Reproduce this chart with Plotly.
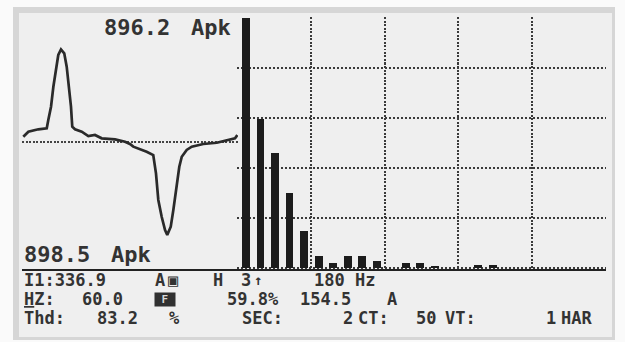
import plotly.graph_objects as go

# ---------------- data ----------------
# Current waveform (one cycle), time in ms and amplitude in A
wave_time_ms = [0.10, 0.49, 1.26, 1.91, 2.03, 2.24, 2.42, 2.60, 2.80, 3.01,
                3.26, 3.45, 3.63, 3.78, 3.88, 4.09, 4.61, 5.12, 5.63, 6.15,
                7.18, 7.95, 8.33, 8.59, 9.62, 10.13, 10.34, 10.52, 10.78, 11.04,
                11.21, 11.48, 11.68, 11.94, 12.14, 12.33, 12.71, 13.10, 13.99, 15.03,
                15.80, 16.44, 16.62]
wave_amps = [51, 100, 123, 133, 213, 342, 535, 697, 842, 896.2,
             858, 729, 535, 342, 148, 123, 100, 58, 68, 36,
             26, 3, -19, -45, -94, -126, -303, -561, -723, -852,
             -898.5, -820, -658, -433, -239, -143, -77, -45, -19, -7,
             13, 36, 68]

# Harmonic spectrum (odd harmonics), % of fundamental
harmonic_order = [1, 3, 5, 7, 9, 11, 13, 15, 17, 19, 21, 23, 25,
                  27, 29, 31, 33, 35, 37, 39, 41, 43, 45, 47, 49]
harmonic_pct = [100, 59.8, 46, 30, 15, 5, 2, 5, 5, 3, 0, 2, 2,
                1, 0, 0, 1.2, 1.2, 0, 0, 0, 0, 0, 0, 0]

# Read-out texts
peak_pos = "896.2"
peak_neg = "898.5"
peak_unit = "Apk"

# ---------------- layout helpers ----------------
W, H = 625, 342
FONT = "DejaVu Sans Mono"
INK = "#333333"


def fx(px):
    return px / W


def fy(py):
    return 1 - py / H


annotations = []


def label(text, x, y, size, color=INK, **kw):
    annotations.append(dict(
        text=text, x=fx(x), y=fy(y), xref="paper", yref="paper",
        xanchor="left", yanchor="middle", showarrow=False, borderpad=0,
        font=dict(family=FONT, size=size, color=color, weight="bold"), **kw))


def cell(col):
    return 23 + col * 14.5


fig = go.Figure()

fig.add_trace(go.Scatter(
    x=wave_time_ms, y=wave_amps, mode="lines",
    line=dict(color="#2a2a2a", width=2.7),
    xaxis="x", yaxis="y", hoverinfo="skip"))

fig.add_trace(go.Bar(
    x=harmonic_order, y=harmonic_pct, width=1.1,
    marker=dict(color="#1c1c1c", line=dict(width=0)),
    xaxis="x2", yaxis="y2", hoverinfo="skip"))

# top / bottom peak read-outs
TS = 22
label(peak_pos, 103, 27.5, TS)
label(peak_unit, 190, 27.5, TS)
label(peak_neg, 23, 254.5, TS)
label(peak_unit, 110, 254.5, TS)

R1, R2, R3 = 279.5, 299, 317.5
FS = 17
# row 1
label("I1:336.9", cell(0), R1, FS)
label("A", cell(9), R1, FS)
label("▣", cell(10) - 1, R1, FS)
label("H", cell(13), R1, FS)
label("3", cell(15), R1, FS)
label("↑", cell(16) - 2, R1, 14)
label("180 Hz", cell(20), R1, FS)
# row 2
label("<u>H</u>Z:", cell(0), R2, FS)
label("60.0", cell(4), R2, FS)
label(" F ", cell(9), R2, 11, color="#d8d8d8", bgcolor="#303030")
label("59.8%", cell(14), R2, FS)
label("154.5", cell(19), R2, FS)
label("A", cell(25), R2, FS)
# row 3
label("Thd:", cell(0), R3, FS)
label("83.2", cell(5), R3, FS)
label("%", cell(10), R3, FS)
label("SEC:", cell(15), R3, FS)
label("2", cell(22), R3, FS)
label("CT:", cell(23), R3, FS)
label("50", cell(27), R3, FS)
label("VT:", cell(29), R3, FS)
label("1", cell(36), R3, FS)
label("HAR", cell(37), R3, FS)

shapes = [
    dict(type="rect", xref="paper", yref="paper", x0=fx(13), x1=fx(615),
         y0=fy(340), y1=fy(7), fillcolor="#d6d6d6", line=dict(width=0), layer="below"),
    dict(type="rect", xref="paper", yref="paper", x0=fx(19), x1=fx(612),
         y0=fy(337), y1=fy(13), fillcolor="#efefef", line=dict(width=0), layer="below"),
]

dom_y = [fy(269), fy(17)]
fig.update_layout(
    width=W, height=H, margin=dict(l=0, r=0, t=0, b=0),
    paper_bgcolor="#fafafa", plot_bgcolor="rgba(0,0,0,0)",
    showlegend=False, bargap=0,
    annotations=annotations, shapes=shapes,
    xaxis=dict(domain=[fx(22), fx(238)], range=[0, 16.67], anchor="y",
               showgrid=False, zeroline=False, showticklabels=False, ticks="",
               showline=True, linecolor="#222222", linewidth=2),
    yaxis=dict(domain=dom_y, range=[-1229, 1210], anchor="x",
               tickvals=[0], showgrid=True, gridcolor="#444444", gridwidth=2,
               griddash="2px,1.5px", zeroline=False, showticklabels=False,
               ticks="", showline=False),
    xaxis2=dict(domain=[fx(237), fx(606)], range=[-0.238, 50.638], anchor="y2",
                tick0=-0.1, dtick=10.12, showgrid=True, gridcolor="#3a3a3a",
                gridwidth=2, griddash="2px,1.5px", zeroline=False,
                showticklabels=False, ticks="",
                showline=True, linecolor="#222222", linewidth=2),
    yaxis2=dict(domain=dom_y, range=[-0.4, 100.4], anchor="x2",
                tick0=0, dtick=20, showgrid=True, gridcolor="#3a3a3a",
                gridwidth=2, griddash="2px,2px", zeroline=False,
                showticklabels=False, ticks="", showline=False),
)

fig.write_html("out.html", config={"displayModeBar": False},
               post_script="document.body.style.margin='0';document.body.style.overflow='hidden';")
